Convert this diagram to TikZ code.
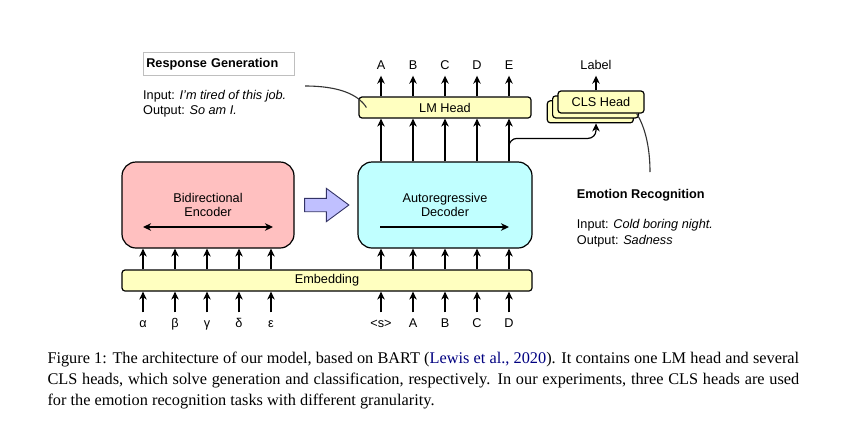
\documentclass[tikz,border=0pt]{standalone}
\usepackage{fontspec}
\setmainfont{Liberation Serif}
\setsansfont{Liberation Sans}
\usetikzlibrary{arrows.meta,positioning}

\definecolor{headfill}{RGB}{255,255,192}
\definecolor{encfill}{RGB}{255,192,192}
\definecolor{decfill}{RGB}{192,255,255}
\definecolor{shiftfill}{RGB}{192,192,255}
\definecolor{shiftline}{RGB}{51,51,102}
\definecolor{citeblue}{RGB}{0,0,128}

\newcommand{\figfont}{\fontsize{12.7}{14.7}\selectfont\sffamily}

\tikzset{
  headbox/.style={draw, fill=headfill, rounded corners=3pt, line width=1.2pt, font=\figfont, inner sep=0pt},
  bigbox/.style={draw, rounded corners=14pt, line width=1.2pt, font=\figfont, align=center, inner sep=0pt},
  tok/.style={font=\figfont, inner xsep=0pt, inner ysep=6pt, text height=9pt, text depth=0pt},
  note/.style={font=\figfont, align=left, inner sep=0pt},
  titlebox/.style={draw=black!25, line width=0.6pt, font=\figfont\bfseries, text width=145pt, inner xsep=3pt, minimum height=23pt},
  arr/.style={-{Stealth[length=8pt,width=7.5pt,inset=2.5pt]}, line width=1.2pt},
  biarr/.style={{Stealth[length=8pt,width=7.5pt,inset=2.5pt]}-{Stealth[length=8pt,width=7.5pt,inset=2.5pt]}, line width=1.2pt},
  pointer/.style={draw=black!80, line width=1.1pt},
}

\begin{document}
\begin{tikzpicture}[x=1pt,y=-1pt]
  \useasboundingbox (0,0) rectangle (848,429);

  % encoder / decoder
  \node[bigbox, fill=encfill, minimum width=172pt, minimum height=86pt] (enc) at (208,205) {Bidirectional\\Encoder};
  \node[bigbox, fill=decfill, minimum width=174pt, minimum height=86pt] (dec) at (445,205) {Autoregressive\\Decoder};
  \draw[biarr] (enc.center) ++(-65,22) -- ++(130,0);
  \draw[arr]   (dec.center) ++(-65,22) -- ++(129,0);

  \filldraw[fill=shiftfill, draw=shiftline, line width=0.9pt, line join=miter]
    (enc.east) ++(10,-6.7) -- ++(21.7,0) -- ++(0,-10) -- ++(22.6,16.7)
    -- ++(-22.6,16.7) -- ++(0,-10) -- ++(-21.7,0) -- cycle;

  \node[headbox, minimum width=410pt, minimum height=21pt] (emb) at (327,280.5) {Embedding};
  \node[headbox, minimum width=172pt, minimum height=21pt] (lm)  at (445,107.5) {LM Head};

  % CLS heads, back to front
  \node[headbox, minimum width=86pt, minimum height=22pt] (cls3) at (590.3,111.8) {};
  \node[headbox, minimum width=86pt, minimum height=22pt] (cls2) at (595.6,106.9) {};
  \node[headbox, minimum width=86pt, minimum height=22pt] (cls1) at (601,102) {CLS Head};

  % token columns
  \foreach \x/\s [count=\i] in {143/α,175/β,207/γ,239/δ,271/ε}{
    \node[tok] (src\i) at (\x,323) {\s};
    \draw[arr] (src\i) -- (emb.south -| src\i);
    \draw[arr] (emb.north -| src\i) -- (enc.south -| src\i);
  }
  \foreach \x/\s [count=\i] in {381/<s>,413/A,445/B,477/C,509/D}{
    \node[tok] (tgt\i) at (\x,323) {\s};
    \draw[arr] (tgt\i) -- (emb.south -| tgt\i);
    \draw[arr] (emb.north -| tgt\i) -- (dec.south -| tgt\i);
    \draw[arr] (dec.north -| tgt\i) -- (lm.south -| tgt\i);
  }
  \foreach \x/\s [count=\i] in {381/A,413/B,445/C,477/D,509/E}{
    \node[tok] (out\i) at (\x,65) {\s};
    \draw[arr] (lm.north -| out\i) -- (out\i);
  }

  \node[tok] (lab) at (596,65) {Label};
  \draw[arr] (cls1.north -| lab) -- (lab);
  \draw[arr, rounded corners=8pt] (dec.north -| out5) -- ++(0,-23) -| (cls3.south -| lab);

  % task notes
  \node[titlebox, anchor=west] (rgtitle) at (143,64.2) {Response Generation};
  \node[note, anchor=north west] (rgtext) at (143,90) {Input: \textit{I'm tired of this job.}\\Output: \textit{So am I.}};
  \coordinate (rgtail) at (305,86);
  \draw[pointer] (rgtail) .. controls (338,86) and (358,94) .. ([xshift=8pt]lm.west);

  \node[note, font=\figfont\bfseries, anchor=base west] (ertitle) at (576.7,198.7) {Emotion Recognition};
  \node[note, anchor=north west, font=\fontsize{12.7}{15.2}\selectfont\sffamily] (ertext) at (576.7,219.4) {Input: \textit{Cold boring night.}\\Output: \textit{Sadness}};
  \coordinate (ertail) at (650,172);
  \draw[pointer] (ertail) .. controls (650,145) and (644,125) .. ([xshift=-8pt]cls1.south east);

  % caption
  \node[anchor=north west, inner sep=0pt, align=left, font=\fontsize{16.3}{20.7}\selectfont] (caption) at (47.3,352.2)
    {\makebox[751.7pt][s]{Figure 1: The architecture of our model, based on BART (\textcolor{citeblue}{Lewis et al., 2020}). It contains one LM head and several}\\
     \makebox[751.7pt][s]{CLS heads, which solve generation and classification, respectively. In our experiments, three CLS heads are used}\\
     for the emotion recognition tasks with different granularity.};
\end{tikzpicture}
\end{document}
